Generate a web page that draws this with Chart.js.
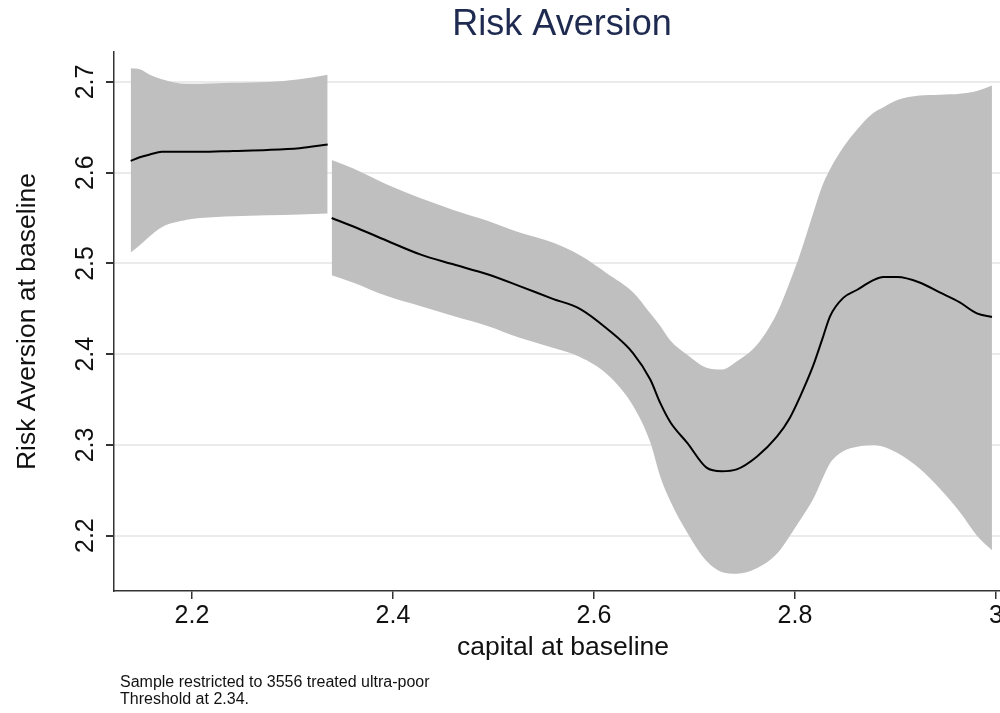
<!DOCTYPE html>
<html>
<head>
<meta charset="utf-8">
<script src="https://cdn.jsdelivr.net/npm/chart.js@4/dist/chart.umd.min.js"></script>
<style>
  html, body { margin: 0; padding: 0; background: #fff; overflow: hidden; }
  #wrap { width: 1012px; height: 713px; }
</style>
</head>
<body>
<div id="wrap"><canvas id="myChart" width="1012" height="713"></canvas></div>
<script>
// tick labels
const xTicks = [2.2, 2.4, 2.6, 2.8, 3];
const yTicks = [2.2, 2.3, 2.4, 2.5, 2.6, 2.7];

// below the threshold (2.34)
const leftX   = [2.139, 2.148, 2.158, 2.170, 2.195, 2.208, 2.241, 2.275, 2.307, 2.335];
const leftFit = [2.613, 2.617, 2.620, 2.623, 2.623, 2.623, 2.624, 2.625, 2.627, 2.631];
const leftHi  = [2.715, 2.714, 2.708, 2.703, 2.698, 2.698, 2.699, 2.700, 2.703, 2.708];
const leftLo  = [2.512, 2.520, 2.530, 2.540, 2.548, 2.550, 2.552, 2.553, 2.554, 2.555];

// above the threshold
const rightX   = [2.339, 2.360, 2.394, 2.427, 2.460, 2.494, 2.526, 2.559, 2.586, 2.613,
                  2.639, 2.656, 2.666, 2.676, 2.693, 2.712, 2.727, 2.742, 2.762, 2.782,
                  2.795, 2.805, 2.818, 2.827, 2.835, 2.848, 2.862, 2.877, 2.888, 2.902,
                  2.924, 2.944, 2.964, 2.981, 2.996];
const rightFit = [2.550, 2.541, 2.525, 2.510, 2.499, 2.488, 2.475, 2.461, 2.450, 2.428,
                  2.401, 2.372, 2.346, 2.325, 2.302, 2.275, 2.271, 2.273, 2.287, 2.309,
                  2.330, 2.353, 2.387, 2.416, 2.442, 2.462, 2.471, 2.481, 2.485, 2.485,
                  2.479, 2.468, 2.457, 2.445, 2.441];
const rightHi  = [2.614, 2.605, 2.587, 2.572, 2.559, 2.547, 2.534, 2.523, 2.509, 2.489,
                  2.468, 2.445, 2.431, 2.415, 2.399, 2.385, 2.383, 2.392, 2.410, 2.445,
                  2.480, 2.510, 2.555, 2.585, 2.604, 2.628, 2.648, 2.665, 2.672, 2.680,
                  2.685, 2.686, 2.687, 2.690, 2.696];
const rightLo  = [2.487, 2.479, 2.464, 2.453, 2.442, 2.431, 2.418, 2.407, 2.397, 2.378,
                  2.343, 2.303, 2.265, 2.238, 2.203, 2.172, 2.160, 2.158, 2.164, 2.180,
                  2.200, 2.217, 2.240, 2.262, 2.280, 2.293, 2.298, 2.300, 2.298, 2.291,
                  2.274, 2.252, 2.226, 2.200, 2.184];

const pts = (xs, ys) => xs.map((x, i) => ({ x: x, y: ys[i] }));
const band = '#bfbfbf';

const lo = (xs, ys) => ({
  data: pts(xs, ys), borderWidth: 0, pointRadius: 0, fill: false, order: 2,
  cubicInterpolationMode: 'monotone',
});
const hi = (xs, ys, target) => ({
  data: pts(xs, ys), borderWidth: 0, pointRadius: 0, order: 2,
  fill: { target: target }, backgroundColor: band,
  cubicInterpolationMode: 'monotone',
});
// lower order draws on top of the bands
const fit = (xs, ys) => ({
  data: pts(xs, ys), borderColor: '#000', borderWidth: 2, pointRadius: 0, order: 0,
  fill: false, cubicInterpolationMode: 'monotone',
});

const font = '"Liberation Sans", Arial, Helvetica, sans-serif';

const texts = {
  id: 'texts',
  afterDraw(chart) {
    const { ctx, chartArea: { left, top, right, bottom }, scales: { x, y } } = chart;
    ctx.save();
    ctx.fillStyle = '#111';
    // x tick labels
    ctx.font = '25px ' + font;
    ctx.textAlign = 'center';
    ctx.textBaseline = 'middle';
    xTicks.forEach(v => ctx.fillText(String(v), x.getPixelForValue(v), bottom + 25));
    // y tick labels, rotated
    yTicks.forEach(v => {
      ctx.save();
      ctx.translate(86, y.getPixelForValue(v));
      ctx.rotate(-Math.PI / 2);
      ctx.fillText(v.toFixed(1), 0, 0);
      ctx.restore();
    });
    // axis titles
    ctx.font = '26.5px ' + font;
    ctx.fillText('capital at baseline', 563, 648);
    ctx.save();
    ctx.translate(28, (top + bottom) / 2);
    ctx.rotate(-Math.PI / 2);
    ctx.fillText('Risk Aversion at baseline', 0, 0);
    ctx.restore();
    // title
    ctx.fillStyle = '#1e2a50';
    ctx.font = '36px ' + font;
    ctx.fillText('Risk Aversion', 562, 25);
    // note
    ctx.fillStyle = '#111';
    ctx.font = '16px ' + font;
    ctx.textAlign = 'left';
    ctx.textBaseline = 'top';
    ctx.fillText('Sample restricted to 3556 treated ultra-poor', 120, 675);
    ctx.fillText('Threshold at 2.34.', 120, 692);
    ctx.restore();
  },
};

const config = {
  type: 'line',
  data: {
    datasets: [
      lo(leftX, leftLo),        // 0
      hi(leftX, leftHi, 0),     // 1
      lo(rightX, rightLo),      // 2
      hi(rightX, rightHi, 2),   // 3
      fit(leftX, leftFit),
      fit(rightX, rightFit),
    ],
  },
  options: {
    responsive: false,
    animation: false,
    devicePixelRatio: 1,
    layout: { padding: { left: 106, top: 52, right: 12, bottom: 114 } },
    plugins: { legend: { display: false }, tooltip: { enabled: false }, title: { display: false } },
    scales: {
      x: {
        type: 'linear',
        min: 2.1224,
        max: 3.004,
        afterBuildTicks: (s) => { s.ticks = xTicks.map(v => ({ value: v })); },
        ticks: { display: false },
        grid: { drawOnChartArea: false, drawTicks: true, tickLength: 8, tickColor: '#333', lineWidth: 1.5 },
        border: { color: '#333', width: 1.5 },
      },
      y: {
        type: 'linear',
        min: 2.139,
        max: 2.733,
        afterBuildTicks: (s) => { s.ticks = yTicks.map(v => ({ value: v })); },
        ticks: { display: false },
        grid: { color: '#ebebeb', lineWidth: 2, drawTicks: true, tickLength: 8, tickColor: '#333' },
        border: { color: '#333', width: 1.5 },
      },
    },
  },
  plugins: [texts],
};

new Chart(document.getElementById('myChart'), config);
</script>
</body>
</html>
